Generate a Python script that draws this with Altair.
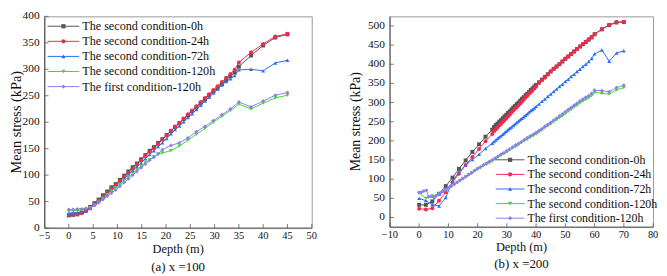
import altair as alt
import pandas as pd

names = ["The second condition-0h", "The second condition-24h", "The second condition-72h",
         "The second condition-120h", "The first condition-120h"]
colors = ["#555555", "#f22a4c", "#2b6ff2", "#43d63c", "#8f7cf2"]
shapes = ["square", "circle", "triangle-up", "triangle-down", "diamond"]

# ---------------- panel (a) x = 100 ----------------
depth_a = [0, 0.875, 1.75, 2.625, 3.5, 4.375, 5.25, 6.125, 7, 7.875, 8.75, 9.625, 10.5, 11.375,
           12.25, 13.125, 14, 14.875, 15.75, 16.625, 17.5, 18.375, 19.25, 20.125, 21, 21.875,
           22.75, 23.625, 24.5, 25.375, 26.25, 27.125, 28, 28.875, 29.75, 30.625, 31.5, 32.375,
           33.25, 34.125, 35, 37.5, 40, 42.5, 45]
depth_a_c = [0, 0.875, 1.75, 2.625, 3.5, 4.375, 5.25, 6.125, 7, 7.875, 8.75, 9.625, 10.5, 11.375,
             12.25, 13.125, 14, 14.875, 15.75, 16.625, 17.5, 18.375, 19.25, 21, 22.75, 24.5,
             26.25, 28, 29.75, 31.5, 33.25, 35, 37.5, 40, 42.5, 45]
a_0h = [24, 25, 26, 29, 33, 40, 47, 54, 62, 69, 77, 83, 91, 99, 107, 115, 122, 130, 138, 146,
        153, 161, 168, 176, 183, 191, 198, 206, 213, 221, 228, 236, 243, 251, 258, 265, 272, 279,
        287, 294, 305, 326, 345, 360, 366]
a_24h = [25, 25, 26, 28, 32, 38, 45, 52, 59, 67, 74, 81, 89, 97, 104, 112, 120, 128, 136, 144,
         151, 159, 167, 175, 184, 192, 199, 207, 215, 222, 230, 238, 246, 253, 261, 268, 276, 284,
         291, 299, 313, 332, 348, 362, 367]
a_72h = [28, 29, 29, 30, 32, 37, 44, 51, 58, 65, 72, 79, 86, 94, 101, 108, 116, 123, 131, 139,
         146, 154, 161, 169, 178, 186, 193, 201, 209, 216, 224, 232, 240, 247, 255, 262, 270, 277,
         282, 288, 299, 300, 297, 312, 317]
a_120h = [32, 33, 33, 34, 35, 38, 43, 49, 56, 63, 70, 76, 83, 90, 97, 103, 110, 117, 123, 129,
          135, 140, 142, 146, 155, 166, 177, 188, 200, 211, 222, 234, 225, 236, 246, 251]
a_first = [35, 35, 36, 36, 37, 39, 43, 48, 54, 60, 66, 72, 79, 86, 93, 100, 107, 114, 121, 128,
           134, 140, 148, 156, 161, 170, 182, 192, 203, 214, 225, 238, 229, 240, 251, 256]

# ---------------- panel (b) x = 200 ----------------
depth_b = [0, 2.3, 4.5, 6.8, 9.1, 11.4, 13.6, 15.9, 18.2, 20.5, 22.7, 25,
           25.6, 26.2, 26.8, 27.4, 28, 28.6, 29.2, 29.8, 30.4, 31, 31.6, 32.2, 32.8, 33.4, 34,
           34.6, 35.2, 35.8, 36.4, 37, 37.6, 38.2, 38.8, 39.4, 40,
           41, 42, 43, 44, 45, 46, 47, 48, 49, 50, 51, 52, 53, 54, 55, 56, 57, 58, 59, 60,
           62.5, 65, 67.5, 70]
b_0h = [33, 33, 42, 62, 82, 104, 127, 149, 171, 191, 211, 229,
        236, 241, 245, 250, 254, 259, 264, 268, 273, 277, 282, 287, 291, 296, 300,
        305, 310, 314, 319, 323, 328, 333, 337, 342, 346,
        353, 360, 367, 374, 381, 388, 394, 400, 407, 414, 420, 427, 433, 440, 446, 452, 458,
        464, 470, 478, 491, 502, 509, 510]
b_24h = [23, 21, 24, 44, 66, 92, 114, 137, 158, 179, 199, 218,
         225, 230, 235, 240, 244, 249, 254, 259, 264, 269, 274, 279, 284, 288, 293,
         298, 303, 308, 313, 318, 323, 327, 332, 337, 342,
         351, 358, 365, 373, 381, 388, 394, 401, 408, 415, 421, 427, 434, 440, 447, 453, 459,
         465, 471, 479, 492, 503, 510, 511]
b_72h = [50, 44, 34, 30, 52, 95, 119, 137, 151, 165, 180, 194,
         198, 202, 206, 210, 213, 217, 221, 225, 229, 233, 236, 240, 244, 248, 252,
         256, 259, 263, 267, 271, 275, 279, 282, 286, 290,
         296, 303, 309, 316, 322, 329, 335, 342, 348, 355, 361, 368, 374, 381, 387, 394, 400,
         407, 415, 427, 437, 408, 429, 435]
depth_b_p = [0, 0.8, 1.6, 2.5, 3.2, 4, 4.9, 5.7, 6.5, 7.3, 8.1, 8.9, 9.7, 10.5,
             11, 12, 13, 14, 15, 16, 17, 18, 19, 20, 21, 22, 23, 24, 25, 26, 27, 28, 29, 30,
             31, 32, 33, 34, 35, 36, 37, 38, 39, 40, 41, 42, 43, 44, 45, 46, 47, 48, 49, 50,
             51, 52, 53, 54, 55, 56, 57, 58, 59, 60, 62.5, 65, 67.5, 70]
b_first = [65, 66, 69, 71, 54, 55, 53, 56, 60, 64, 68, 72, 76, 80,
           82, 87, 92, 97, 102, 107, 112, 117, 123, 128, 132, 137, 141, 146, 150, 155, 160, 165,
           169, 174, 179, 184, 189, 193, 198, 203, 208, 213, 217, 222, 227, 232, 238, 243, 248,
           254, 259, 265, 270, 276, 282, 287, 293, 298, 304, 309, 314, 318, 324, 332, 331, 328,
           339, 345]
depth_b_g = [0, 2.3, 4.5, 6.8, 9.1,
             11, 12, 13, 14, 15, 16, 17, 18, 19, 20, 21, 22, 23, 24, 25, 26, 27, 28, 29, 30,
             31, 32, 33, 34, 35, 36, 37, 38, 39, 40, 41, 42, 43, 44, 45, 46, 47, 48, 49, 50,
             51, 52, 53, 54, 55, 56, 57, 58, 59, 60, 62.5, 65, 67.5, 70]
b_120h = [64, 50, 56, 61, 71,
          81, 86, 91, 96, 101, 106, 111, 116, 121, 126, 130, 135, 139, 143, 147, 152, 157, 162,
          166, 171, 176, 181, 185, 190, 195, 200, 204, 209, 213, 218, 223, 228, 234, 239, 244,
          250, 255, 260, 265, 271, 277, 282, 288, 293, 299, 304, 308, 312, 318, 327, 324, 322,
          333, 339]

x_ticks_a = [-5, 0, 5, 10, 15, 20, 25, 30, 35, 40, 45, 50]
y_ticks_a = [0, 50, 100, 150, 200, 250, 300, 350, 400]
x_ticks_b = [-10, 0, 10, 20, 30, 40, 50, 60, 70, 80]
y_ticks_b = [0, 50, 100, 150, 200, 250, 300, 350, 400, 450, 500]

x_title = "Depth (m)"
y_title = "Mean stress (kPa)"

FONT = "Liberation Serif"
INK = "#111111"


def long_df(pairs):
    rows = []
    for name, xs, ys in pairs:
        for d, v in zip(xs, ys):
            rows.append({"series": name, "depth": d, "stress": v})
    return pd.DataFrame(rows)


df_a = long_df([(names[0], depth_a, a_0h), (names[1], depth_a, a_24h), (names[2], depth_a, a_72h),
                (names[3], depth_a_c, a_120h), (names[4], depth_a_c, a_first)])
df_b = long_df([(names[0], depth_b, b_0h), (names[1], depth_b, b_24h), (names[2], depth_b, b_72h),
                (names[3], depth_b_g, b_120h), (names[4], depth_b_p, b_first)])

cscale = alt.Scale(domain=names, range=colors)
sscale = alt.Scale(domain=names, range=shapes)


def panel(df, xdom, ydom, xt, yt, w, h, leg, caption, ytitle_x, ytitle_size,
          xlab_dy, xtitle_dy, cap_dy):
    xs = alt.Scale(domain=xdom, nice=False, zero=False)
    ys = alt.Scale(domain=ydom, nice=False, zero=False)
    X = alt.X("depth:Q", scale=xs, axis=None)
    Y = alt.Y("stress:Q", scale=ys, axis=None)
    base = alt.Chart(df)
    col = alt.Color("series:N", scale=cscale, legend=None)
    lines = base.mark_line(strokeWidth=1).encode(x=X, y=Y, color=col, order="depth:Q")
    pts = base.mark_point(filled=True, size=16, opacity=1).encode(
        x=X, y=Y, color=col, shape=alt.Shape("series:N", scale=sscale, legend=None))

    xt_df = pd.DataFrame({"depth": xt})
    yt_df = pd.DataFrame({"stress": yt})
    xtick = alt.Chart(xt_df).mark_tick(size=4, thickness=1, color="#444").encode(
        x=X, y=alt.value(h - 2))
    ytick = alt.Chart(yt_df).mark_tick(size=4, thickness=1, color="#444").encode(
        y=Y, x=alt.value(2))
    xlab = alt.Chart(xt_df).mark_text(font=FONT, fontSize=10.5, color=INK,
                                      baseline="middle", align="center").encode(
        x=X, y=alt.value(h + xlab_dy), text=alt.Text("depth:Q"))
    ylab = alt.Chart(yt_df).mark_text(font=FONT, fontSize=11.5, color=INK,
                                      baseline="middle", align="right").encode(
        y=Y, x=alt.value(-5), text=alt.Text("stress:Q"))
    tdf = pd.DataFrame({"xt": [x_title], "yt": [y_title], "cap": [caption]})
    xtit = alt.Chart(tdf).mark_text(font=FONT, fontSize=12.5, color=INK,
                                    baseline="middle", align="center").encode(
        x=alt.value(w / 2), y=alt.value(h + xtitle_dy), text="xt:N")
    ytit = alt.Chart(tdf).mark_text(font=FONT, fontSize=ytitle_size, color=INK, angle=270,
                                    baseline="middle", align="center").encode(
        x=alt.value(ytitle_x), y=alt.value(h / 2), text="yt:N")
    cap = alt.Chart(tdf).mark_text(font=FONT, fontSize=13, color=INK,
                                   baseline="middle", align="center").encode(
        x=alt.value(w / 2), y=alt.value(h + cap_dy), text="cap:N")
    axl = alt.Chart(tdf).mark_rule(color="#555", strokeWidth=1).encode(
        x=alt.value(0), y=alt.value(0), y2=alt.value(h))
    axb = alt.Chart(tdf).mark_rule(color="#555", strokeWidth=1).encode(
        x=alt.value(0), x2=alt.value(w), y=alt.value(h))
    main = alt.layer(lines, pts, xtick, ytick, xlab, ylab, xtit, ytit, cap, axl, axb)

    lx, llen, lys, lfs = leg
    ldf = pd.DataFrame({"series": names})
    ly = alt.Y("series:N", sort=names,
               scale=alt.Scale(type="point", domain=names, range=lys, padding=0), axis=None)
    lrule = alt.Chart(ldf).mark_rule(strokeWidth=1).encode(
        x=alt.value(lx), x2=alt.value(lx + llen), y=ly, color=col)
    lpt = alt.Chart(ldf).mark_point(filled=True, size=18, opacity=1).encode(
        x=alt.value(lx + llen / 2), y=ly, color=col,
        shape=alt.Shape("series:N", scale=sscale, legend=None))
    ltxt = alt.Chart(ldf).mark_text(align="left", baseline="middle", font=FONT,
                                    fontSize=lfs, color=INK).encode(
        x=alt.value(lx + llen + 3), y=ly, text="series:N")
    legend = alt.layer(lrule, lpt, ltxt)

    return alt.layer(main, legend).resolve_scale(y="independent").properties(width=w, height=h)


left = panel(df_a, [-5, 50], [0, 400], x_ticks_a, y_ticks_a, 270, 214,
             (3, 32, [10, 71], 12.3), "(a) x =100", -28, 14.5, 8, 21, 39)
right = panel(df_b, [-10, 80], [-25, 525], x_ticks_b, y_ticks_b, 266, 213,
              (107, 29, [145, 204], 12), "(b) x =200", -34, 14, 8, 20, 37)

chart = alt.hconcat(left, right, spacing=31).properties(padding=0).configure_view(
    stroke="#999", strokeWidth=1
)

chart.save("out.html", embed_options={"renderer": "svg", "actions": False})
